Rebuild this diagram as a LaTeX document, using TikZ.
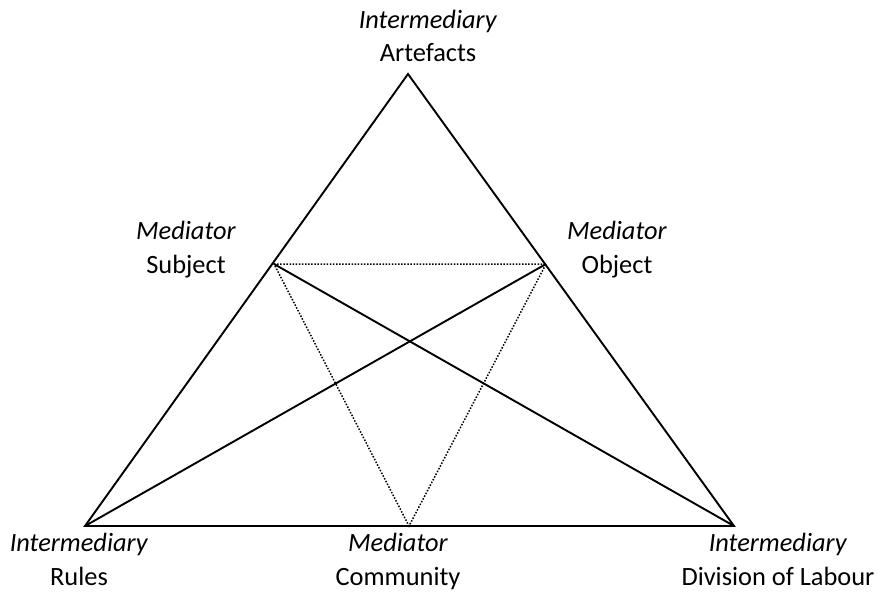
\documentclass[tikz,border=0pt]{standalone}
\usepackage{fontspec}
\setmainfont{Carlito}
\begin{document}
\begin{tikzpicture}[x=1pt,y=-1pt,
  edge/.style={line width=1.9pt, line join=miter},
  dotline/.style={line width=1.5pt, dash pattern=on 1.5pt off 1.6pt},
  lbl/.style={align=center, anchor=base, inner sep=0pt, font=\fontsize{26.4}{33.5}\selectfont}]
\useasboundingbox (0,0) rectangle (878,599);
\coordinate (A) at (408,74);
\coordinate (R) at (85,526);
\coordinate (D) at (734,526);
\coordinate (S) at (274,264);
\coordinate (O) at (546,264);
\coordinate (C) at (409,526);
\draw[edge] (A) -- (R) -- (D) -- cycle;
\draw[edge] (S) -- (D);
\draw[edge] (O) -- (R);
\draw[dotline] (S) -- (O) -- (C) -- cycle;
\node[lbl] (lA) at (428,62) {\textit{Intermediary}\\Artefacts};
\node[lbl] (lS) at (186,273) {\textit{Mediator}\\Subject};
\node[lbl] (lO) at (617,273) {\textit{Mediator}\\Object};
\node[lbl] (lR) at (79,585) {\textit{Intermediary}\\Rules};
\node[lbl] (lC) at (398,585) {\textit{Mediator}\\Community};
\node[lbl] (lD) at (778,585) {\textit{Intermediary}\\Division of Labour};
\end{tikzpicture}
\end{document}
